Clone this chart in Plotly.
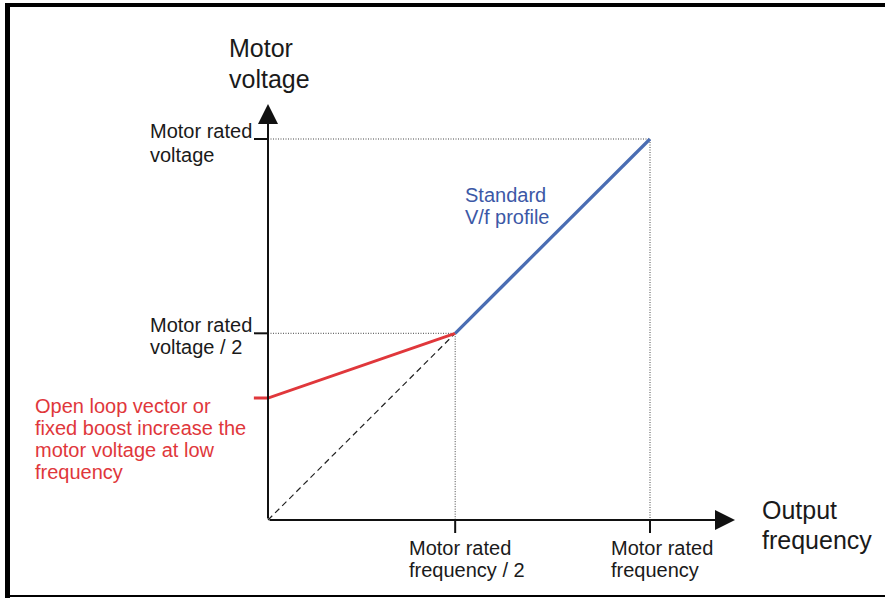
import plotly.graph_objects as go

# ---------------- data (per-unit of rated values) ----------------
freq_tick_vals = [0.49, 1.0]
freq_tick_labels = [["Motor rated", "frequency / 2"], ["Motor rated", "frequency"]]
volt_tick_vals = [0.49, 1.0]
volt_tick_labels = [["Motor rated", "voltage"], ["Motor rated", "voltage / 2"]]

standard_f = [0.49, 1.0]
standard_v = [0.49, 1.0]
boost_f = [-0.037, 0.0, 0.49]
boost_v = [0.32, 0.32, 0.49]
linear_f = [0.0, 0.49]
linear_v = [0.0, 0.49]

y_axis_top = 1.092
x_axis_end = 1.2225

W, H = 885, 598
OX, OY = 268, 520           # pixel position of origin
PX_X, PX_Y = 382, 381       # pixels per unit

FONT = "Arial, Liberation Sans, sans-serif"
BLUE_LINE = "#4a6db3"
BLUE_TEXT = "#3c58a6"
RED = "#e0373b"

fig = go.Figure()

# reference guide lines (dotted)
for fv, vv in zip(freq_tick_vals, volt_tick_vals):
    fig.add_trace(go.Scatter(x=[0, fv, fv], y=[vv, vv, 0], mode="lines",
                             line=dict(color="#444444", width=1, dash="1px,1.5px"),
                             hoverinfo="skip"))

# dashed linear continuation
fig.add_trace(go.Scatter(x=linear_f, y=linear_v, mode="lines",
                         line=dict(color="#222222", width=1.2, dash="6px,4px"),
                         hoverinfo="skip"))
# boost (red)
fig.add_trace(go.Scatter(x=boost_f, y=boost_v, mode="lines",
                         line=dict(color=RED, width=3), hoverinfo="skip"))
# standard V/f (blue)
fig.add_trace(go.Scatter(x=standard_f, y=standard_v, mode="lines",
                         line=dict(color=BLUE_LINE, width=3.2), hoverinfo="skip"))

shapes = []
# tick marks
for fv in freq_tick_vals:
    shapes.append(dict(type="line", xref="x", yref="y", x0=fv, x1=fv,
                       y0=0, y1=-13 / PX_Y, line=dict(color="#111", width=2)))
for vv in volt_tick_vals:
    shapes.append(dict(type="line", xref="x", yref="y", x0=-14 / PX_X, x1=0,
                       y0=vv, y1=vv, line=dict(color="#111", width=2)))

# frame
def px(xp):
    return xp / W

def py(yp):
    return 1 - yp / H

shapes.append(dict(type="line", xref="paper", yref="paper", x0=px(7.5), x1=px(7.5),
                   y0=py(3), y1=py(598), line=dict(color="black", width=5)))
shapes.append(dict(type="line", xref="paper", yref="paper", x0=px(5), x1=px(885),
                   y0=py(5), y1=py(5), line=dict(color="black", width=4)))
shapes.append(dict(type="line", xref="paper", yref="paper", x0=px(5), x1=px(885),
                   y0=py(596), y1=py(596), line=dict(color="black", width=2)))

annotations = []
# axes with arrowheads
annotations.append(dict(x=0, y=y_axis_top, ax=0, ay=0, xref="x", yref="y",
                        axref="x", ayref="y", showarrow=True, arrowhead=2,
                        arrowsize=2, arrowwidth=2, arrowcolor="#111", text=""))
annotations.append(dict(x=x_axis_end, y=0, ax=0, ay=0, xref="x", yref="y",
                        axref="x", ayref="y", showarrow=True, arrowhead=2,
                        arrowsize=2, arrowwidth=2, arrowcolor="#111", text=""))


def text_lines(lines, left, baselines, size, color):
    for t, b in zip(lines, baselines):
        annotations.append(dict(text=t, xref="paper", yref="paper",
                                x=px(left), y=py(b - 0.35 * size),
                                xanchor="left", yanchor="middle", showarrow=False,
                                borderpad=0,
                                font=dict(family=FONT, size=size, color=color)))


text_lines(["Motor", "voltage"], 228, [56.5, 87.5], 25, "#1a1a1a")
text_lines(["Output", "frequency"], 761, [519, 548.5], 25, "#1a1a1a")
text_lines(volt_tick_labels[0], 149, [137.7, 162], 20, "#1a1a1a")
text_lines(volt_tick_labels[1], 149, [331.7, 354], 20, "#1a1a1a")
text_lines(freq_tick_labels[0], 408, [555, 577], 20, "#1a1a1a")
text_lines(freq_tick_labels[1], 610, [555, 577], 20, "#1a1a1a")
text_lines(["Standard", "V/f profile"], 464, [201.7, 224], 20, BLUE_TEXT)
text_lines(["Open loop vector or", "fixed boost increase the",
            "motor voltage at low", "frequency"], 34,
           [413, 435, 457, 479], 20, RED)

fig.update_layout(
    width=W, height=H, autosize=False,
    margin=dict(l=0, r=0, t=0, b=0),
    paper_bgcolor="white", plot_bgcolor="white",
    showlegend=False,
    xaxis=dict(range=[-OX / PX_X, (W - OX) / PX_X], visible=False, fixedrange=True),
    yaxis=dict(range=[-(H - OY) / PX_Y, OY / PX_Y], visible=False, fixedrange=True),
    shapes=shapes, annotations=annotations,
)

fig.write_html("out.html", config={"displayModeBar": False},
               post_script="document.body.style.margin='0';"
                           "document.body.style.padding='0';"
                           "document.body.style.overflow='hidden';")
